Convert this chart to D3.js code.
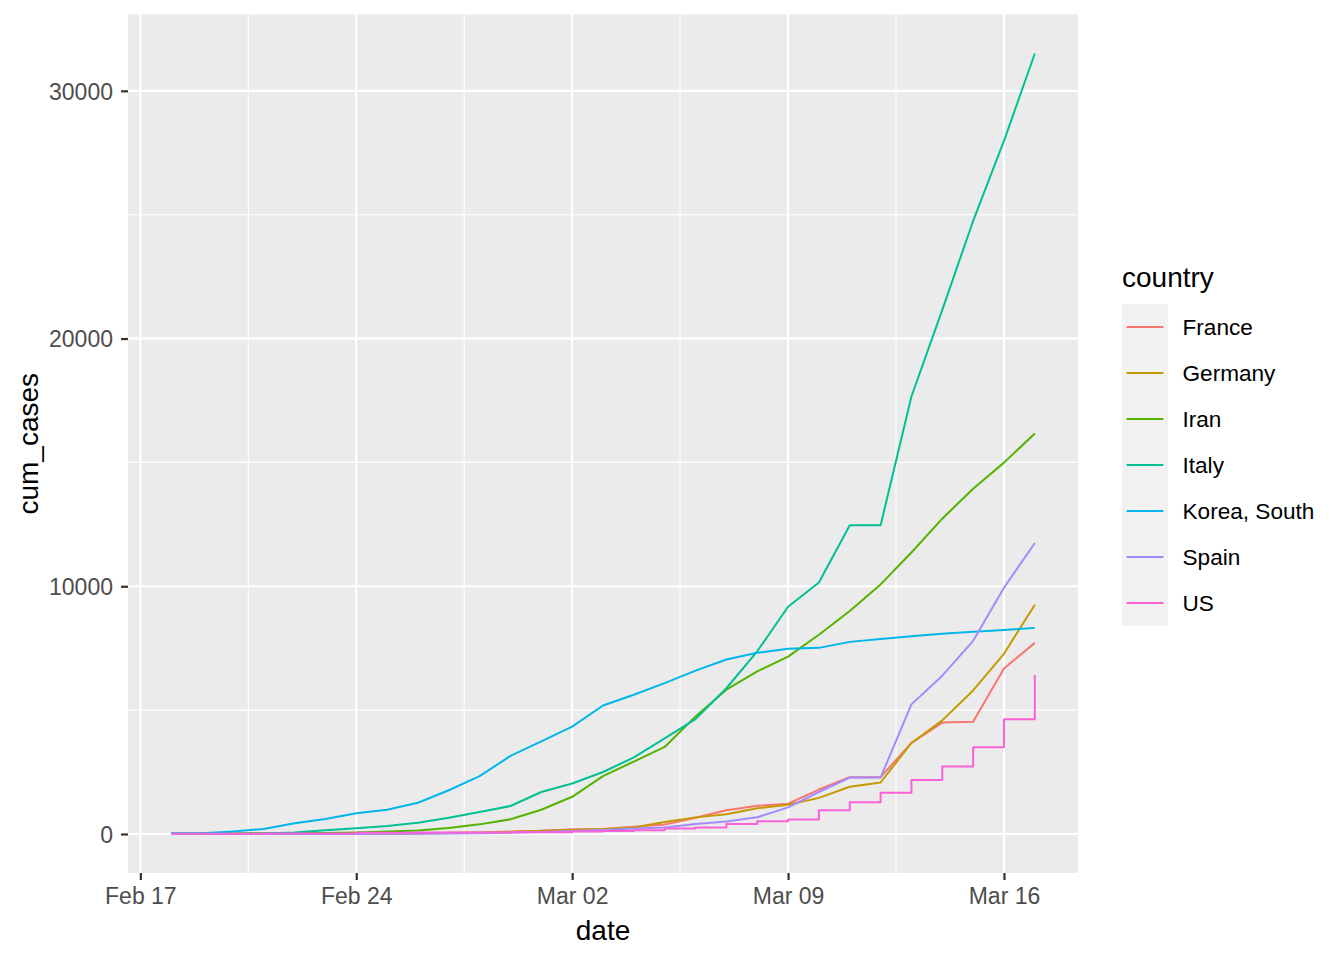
<!DOCTYPE html>
<html>
<head>
<meta charset="utf-8">
<script src="https://cdn.jsdelivr.net/npm/d3@7"></script>
<style>
  body { margin: 0; background: #fff; }
  text { font-family: "Liberation Sans", Arial, sans-serif; }
</style>
</head>
<body>
<svg id="mainsvg" width="1344" height="960"></svg>
<script>
// cumulative confirmed cases, Feb 18 .. Mar 17 2020
const dates = [
  '2020-02-18','2020-02-19','2020-02-20','2020-02-21','2020-02-22','2020-02-23','2020-02-24',
  '2020-02-25','2020-02-26','2020-02-27','2020-02-28','2020-02-29','2020-03-01','2020-03-02',
  '2020-03-03','2020-03-04','2020-03-05','2020-03-06','2020-03-07','2020-03-08','2020-03-09',
  '2020-03-10','2020-03-11','2020-03-12','2020-03-13','2020-03-14','2020-03-15','2020-03-16',
  '2020-03-17'
];
const countries = ['France', 'Germany', 'Iran', 'Italy', 'Korea, South', 'Spain', 'US'];
const colors = ['#F8766D', '#C49A00', '#53B400', '#00C094', '#00B6EB', '#A58AFF', '#FB61D7'];

const france = [12, 12, 12, 12, 12, 12, 12, 14, 18, 38, 57, 100, 130, 191, 204, 288, 380, 656, 959, 1136, 1219, 1794, 2293, 2293, 3681, 4496, 4532, 6683, 7715];
const germany = [16, 16, 16, 16, 16, 16, 16, 17, 27, 46, 48, 79, 130, 159, 196, 262, 482, 670, 799, 1040, 1176, 1457, 1908, 2078, 3675, 4585, 5795, 7272, 9257];
const iran = [0, 2, 5, 18, 28, 43, 61, 95, 139, 245, 388, 593, 978, 1501, 2336, 2922, 3513, 4747, 5823, 6566, 7161, 8042, 9000, 10075, 11364, 12729, 13938, 14991, 16169];
const italy = [3, 3, 3, 20, 62, 155, 229, 322, 453, 655, 888, 1128, 1694, 2036, 2502, 3089, 3858, 4636, 5883, 7375, 9172, 10149, 12462, 12462, 17660, 21157, 24747, 27980, 31506];
const korea = [31, 31, 104, 204, 433, 602, 833, 977, 1261, 1766, 2337, 3150, 3736, 4335, 5186, 5621, 6088, 6593, 7041, 7314, 7478, 7513, 7755, 7869, 7979, 8086, 8162, 8236, 8320];
const spain = [2, 2, 2, 2, 2, 2, 2, 6, 13, 15, 32, 45, 84, 120, 165, 222, 259, 400, 500, 673, 1073, 1695, 2277, 2277, 5232, 6391, 7798, 9942, 11748];
const us = [13, 13, 13, 15, 15, 15, 51, 51, 57, 58, 60, 68, 74, 98, 118, 149, 217, 262, 402, 518, 583, 959, 1281, 1663, 2179, 2727, 3499, 4632, 6421];

const seriesValues = [france, germany, iran, italy, korea, spain, us];

const xTicks = ['2020-02-17', '2020-02-24', '2020-03-02', '2020-03-09', '2020-03-16'];
const yTicks = [0, 10000, 20000, 30000];
const yMinor = [5000, 15000, 25000];

const parseDate = d3.timeParse('%Y-%m-%d');
const xValue = d => d.date;
const yValue = d => d.value;

const svg = d3.select('#mainsvg');
const panel = { left: 128, right: 1078, top: 14.5, bottom: 873 };

const series = countries.map((c, i) => ({
  country: c,
  color: colors[i],
  values: dates.map((d, j) => ({ date: parseDate(d), value: seriesValues[i][j] }))
}));

// ggplot style 5% expansion
const allDates = dates.map(parseDate);
const xMin = d3.min(allDates), xMax = d3.max(allDates);
const xPad = (xMax - xMin) * 0.05;
const xScale = d3.scaleTime()
  .domain([new Date(+xMin - xPad), new Date(+xMax + xPad)])
  .range([panel.left, panel.right]);

const yMax = d3.max(seriesValues, s => d3.max(s));
const yMin = d3.min(seriesValues, s => d3.min(s));
const yPad = (yMax - yMin) * 0.05;
const yScale = d3.scaleLinear()
  .domain([yMin - yPad, yMax + yPad])
  .range([panel.bottom, panel.top]);

// panel background
svg.append('rect')
  .attr('x', panel.left).attr('y', panel.top)
  .attr('width', panel.right - panel.left).attr('height', panel.bottom - panel.top)
  .attr('fill', '#EBEBEB');

const grid = svg.append('g');
const xTickDates = xTicks.map(parseDate);
const xMinorDates = d3.pairs(xTickDates).map(([a, b]) => new Date((+a + +b) / 2));

grid.selectAll('.ymin').data(yMinor).join('line')
  .attr('x1', panel.left).attr('x2', panel.right)
  .attr('y1', d => yScale(d)).attr('y2', d => yScale(d))
  .attr('stroke', '#fff').attr('stroke-width', 1.1);
grid.selectAll('.xmin').data(xMinorDates).join('line')
  .attr('x1', d => xScale(d)).attr('x2', d => xScale(d))
  .attr('y1', panel.top).attr('y2', panel.bottom)
  .attr('stroke', '#fff').attr('stroke-width', 1.1);
grid.selectAll('.ymaj').data(yTicks).join('line')
  .attr('x1', panel.left).attr('x2', panel.right)
  .attr('y1', d => yScale(d)).attr('y2', d => yScale(d))
  .attr('stroke', '#fff').attr('stroke-width', 2.2);
grid.selectAll('.xmaj').data(xTickDates).join('line')
  .attr('x1', d => xScale(d)).attr('x2', d => xScale(d))
  .attr('y1', panel.top).attr('y2', panel.bottom)
  .attr('stroke', '#fff').attr('stroke-width', 2.2);

// lines
const line = d3.line()
  .x(d => xScale(xValue(d)))
  .y(d => yScale(yValue(d)));
const usLine = d3.line()
  .curve(d3.curveStepAfter)
  .x(d => xScale(xValue(d)))
  .y(d => yScale(yValue(d)));

svg.append('g').selectAll('path').data(series).join('path')
  .attr('d', d => d.country === 'US' ? usLine(d.values) : line(d.values))
  .attr('fill', 'none')
  .attr('stroke', d => d.color)
  .attr('stroke-width', 2)
  .attr('stroke-linejoin', 'round');

// axes
const xAxis = d3.axisBottom(xScale)
  .tickValues(xTickDates)
  .tickFormat(d3.timeFormat('%b %d'))
  .tickSize(7)
  .tickPadding(6);
const gx = svg.append('g')
  .attr('transform', `translate(0, ${panel.bottom})`)
  .call(xAxis);

const yAxis = d3.axisLeft(yScale)
  .tickValues(yTicks)
  .tickFormat(d3.format('d'))
  .tickSize(7)
  .tickPadding(8);
const gy = svg.append('g')
  .attr('transform', `translate(${panel.left}, 0)`)
  .call(yAxis);

[gx, gy].forEach(g => {
  g.select('.domain').remove();
  g.selectAll('.tick line').attr('stroke', '#333333').attr('stroke-width', 2.2);
  g.selectAll('.tick text')
    .attr('fill', '#4D4D4D')
    .style('font-size', '23px')
    .style('font-family', '"Liberation Sans", Arial, sans-serif');
});
gx.selectAll('.tick text').attr('dy', '0.8em');
gy.selectAll('.tick text').attr('dy', '0.36em');

// axis titles
svg.append('text').text('date')
  .attr('x', (panel.left + panel.right) / 2)
  .attr('y', 940)
  .attr('text-anchor', 'middle')
  .style('font-size', '28px')
  .attr('fill', '#000');

svg.append('text').text('cum_cases')
  .attr('transform', `translate(37.5, ${(panel.top + panel.bottom) / 2}) rotate(-90)`)
  .attr('text-anchor', 'middle')
  .style('font-size', '28px')
  .attr('fill', '#000');

// legend
const legend = svg.append('g').attr('transform', 'translate(1122, 0)');
legend.append('text').text('country')
  .attr('x', 0).attr('y', 287)
  .style('font-size', '28px')
  .attr('fill', '#000');

const keyH = 46;
const items = legend.selectAll('.item').data(series).join('g')
  .attr('transform', (d, i) => `translate(0, ${304 + i * keyH})`);
items.append('rect')
  .attr('width', 46).attr('height', keyH)
  .attr('fill', '#F2F2F2');
items.append('line')
  .attr('x1', 4.6).attr('x2', 41.4)
  .attr('y1', keyH / 2).attr('y2', keyH / 2)
  .attr('stroke', d => d.color)
  .attr('stroke-width', 2);
items.append('text').text(d => d.country)
  .attr('x', 60.5).attr('y', keyH / 2)
  .attr('dy', '0.36em')
  .style('font-size', '22.6px')
  .attr('fill', '#000');
</script>
</body>
</html>
